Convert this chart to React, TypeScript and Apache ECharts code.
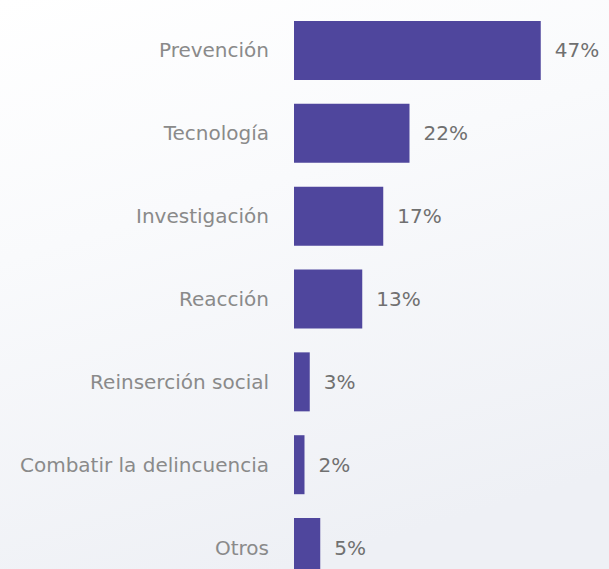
import React, { useEffect, useRef } from "react";
import * as echarts from "echarts";

const categories = [
  "Prevención",
  "Tecnología",
  "Investigación",
  "Reacción",
  "Reinserción social",
  "Combatir la delincuencia",
  "Otros",
];
const values = [47, 22, 17, 13, 3, 2, 5];

export default function App() {
  const ref = useRef<HTMLDivElement>(null);
  useEffect(() => {
    if (!ref.current) return;
    const chart = echarts.init(ref.current, null, { renderer: "svg" });
    chart.setOption({
      animation: false,
      backgroundColor: {
        type: "linear",
        x: 0,
        y: 0,
        x2: 0.3,
        y2: 1,
        colorStops: [
          { offset: 0, color: "#ffffff" },
          { offset: 0.4, color: "#f9fafc" },
          { offset: 1, color: "#eef0f5" },
        ],
      },
      grid: { left: 294, top: 9, width: 318, height: 580, containLabel: false },
      xAxis: {
        type: "value",
        min: 0,
        max: 60,
        show: false,
      },
      yAxis: {
        type: "category",
        data: categories,
        inverse: true,
        axisLine: { show: false },
        axisTick: { show: false },
        splitLine: { show: false },
        axisLabel: {
          margin: 25,
          color: "#8a8a8a",
          fontFamily: "DejaVu Sans",
          fontSize: 20,
        },
      },
      series: [
        {
          type: "bar",
          data: values,
          barWidth: 59,
          itemStyle: { color: "#4f469d" },
          label: {
            show: true,
            position: "right",
            distance: 14,
            formatter: "{c}%",
            color: "#707070",
            fontFamily: "DejaVu Sans",
            fontSize: 20,
          },
        },
      ],
    });
    return () => chart.dispose();
  }, []);
  return (
    <div
      style={{
        position: "fixed",
        left: 0,
        top: 0,
        width: 609,
        height: 569,
        overflow: "hidden",
      }}
    >
      <div ref={ref} style={{ width: 609, height: 600 }} />
    </div>
  );
}
